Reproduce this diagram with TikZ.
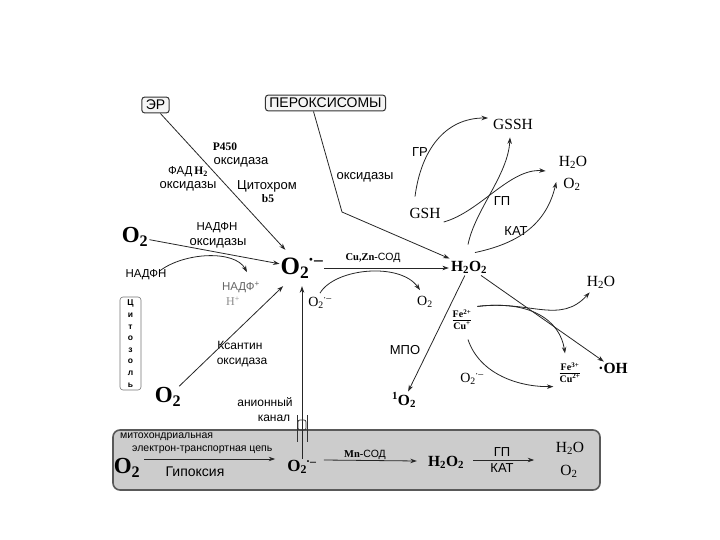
\documentclass[tikz,border=0pt]{standalone}
\usepackage{fontspec}
\setmainfont{Liberation Serif}
\newfontfamily\sansf{Liberation Sans}
\usetikzlibrary{arrows.meta,calc}
\newcommand\orad{O\textsubscript{2}\kern-0.05em\textsuperscript{·–}}
\newcommand\fefrac[2]{\begin{tabular}{@{}c@{}}#1\\[-1.5pt]\hline\rule{0pt}{9pt}#2\end{tabular}}
\begin{document}
\begin{tikzpicture}[x=1pt,y=-1pt,
  lab/.style={font=\sansf\fontsize{13}{14}\selectfont, inner sep=1pt},
  labs/.style={font=\sansf\fontsize{11.5}{12}\selectfont, inner sep=1pt},
  labm/.style={font=\sansf\fontsize{12}{13}\selectfont, inner sep=1pt},
  labt/.style={font=\sansf\fontsize{10.5}{11}\selectfont, inner sep=1pt},
  serb/.style={font=\bfseries\fontsize{11.5}{12}\selectfont, inner sep=1pt},
  bigO/.style={font=\bfseries\fontsize{23}{23}\selectfont, inner sep=1pt},
  midO/.style={font=\bfseries\fontsize{17}{17}\selectfont, inner sep=1pt},
  mid/.style={font=\bfseries\fontsize{15.5}{16}\selectfont, inner sep=2pt},
  rom/.style={font=\fontsize{15.5}{16}\selectfont, inner sep=1pt},
  roms/.style={font=\fontsize{14}{14}\selectfont, inner sep=1pt},
  frac/.style={font=\bfseries\fontsize{10}{11}\selectfont, inner sep=1pt},
  arr/.style={-{Stealth[length=6.5pt,width=4.5pt]}, line width=0.8pt, draw=black!85},
  org/.style={draw=black!80, rounded corners=3pt, line width=1pt, fill=black!4,
    font=\sansf\fontsize{14}{15}\selectfont, inner xsep=4pt, inner ysep=3pt},
  cytobox/.style={draw=black!55, rounded corners=3pt, line width=0.6pt,
    minimum width=21, minimum height=93, inner sep=0pt, align=center,
    font=\sansf\bfseries\fontsize{8.5}{11.6}\selectfont},
  mitobox/.style={draw=black!65, line width=1.6pt, fill=black!20, rounded corners=7pt,
    minimum width=487, minimum height=60, inner sep=0pt}]
\useasboundingbox (0,0) rectangle (720,540);

% bottom mitochondrial box
\node[mitobox] (mito) at (356.5,460) {};

% organelle boxes
\node[org] (er) at (155.5,105) {ЭР};
\node[org] (per) at (325.5,103) {ПЕРОКСИСОМЫ};

% ER labels
\node[serb] (p450) at (225,147) {P450};
\node[lab] (ox1) at (241,162) {оксидаза};
\node[labs] (fad) at (188,172) {ФАД\,{\rmfamily\bfseries H\textsubscript{2}}};
\node[lab] (ox2) at (188,186) {оксидазы};
\node[lab] (cytb) at (267,186) {Цитохром};
\node[serb] (b5) at (268,199) {b5};
\node[lab] (ox3) at (365,177) {оксидазы};

% top right
\node[rom] (gssh) at (513,124) {GSSH};
\node[rom] (h2oa) at (573,162) {H\textsubscript{2}O};
\node[rom] (o2a) at (572,184) {O\textsubscript{2}};
\node[rom] (gsh) at (425,213) {GSH};
\node[lab] (gr) at (420,152) {ГР};
\node[lab] (gp) at (502,201) {ГП};
\node[lab] (kat) at (516,231) {КАТ};

% left
\node[bigO] (o2l) at (135,237) {O\textsubscript{2}};
\node[labs] (nox1) at (217,228) {НАДФН};
\node[lab] (nox2) at (218,243) {оксидазы};
\node[labs] (nadph) at (146,275) {НАДФН};
\node[labs, text=black!60] (nadp) at (241,287) {НАДФ\textsuperscript{+}};
\node[roms, text=black!45, font=\fontsize{12}{12}\selectfont] (hp) at (233,301) {H\textsuperscript{+}};

% centre
\node[bigO, font=\bfseries\fontsize{25}{25}\selectfont, minimum width=42, minimum height=36] (o2m) at (302,268) {\orad};
\node[serb, font=\bfseries\fontsize{10.5}{11}\selectfont] (cuzn) at (373,258) {Cu,Zn-{\sansf\mdseries СОД}};
\node[roms] (o2s) at (320,303) {\orad};
\node[roms] (o2r) at (425,302) {O\textsubscript{2}};
\node[mid] (h2o2) at (469,267) {H\textsubscript{2}O\textsubscript{2}};
\node[rom] (h2ob) at (601,282) {H\textsubscript{2}O};
\node[frac] (fe2) at (462,321) {\fefrac{Fe\textsuperscript{2+}}{Cu\textsuperscript{+}}};
\node[frac] (fe3) at (570,374) {\fefrac{Fe\textsuperscript{3+}}{Cu\textsuperscript{2+}}};
\node[mid, inner sep=1pt] (oh) at (613,368) {·OH};
\node[roms] (o2s2) at (472,379) {\orad};
\node[lab] (mpo) at (405,350) {МПО};
\node[mid, inner sep=1pt] (sing) at (404,400) {\textsuperscript{1}O\textsubscript{2}};

% lower left
\node[cytobox] (cyt) at (130.5,343.5) {Ц\\и\\т\\о\\з\\о\\л\\ь};
\node[bigO] (o2x) at (168,397) {O\textsubscript{2}};
\node[labm] (xan1) at (240,345) {Ксантин};
\node[labm] (xan2) at (242,362) {оксидаза};
\node[labm] (an1) at (265,402) {анионный};
\node[labm] (an2) at (274,418) {канал};

% inside mitochondrial box
\node[labt, anchor=west] (mt1) at (119,437) {митохондриальная};
\node[labt, anchor=west] (mt2) at (131,450) {электрон-транспортная цепь};
\node[bigO] (o2c) at (127,468) {O\textsubscript{2}};
\node[lab, font=\sansf\fontsize{14}{15}\selectfont] (hyp) at (195,472) {Гипоксия};
\node[midO] (o2b) at (302,467) {\orad};
\node[serb, font=\bfseries\fontsize{10.5}{11}\selectfont] (mnsod) at (365,455) {Mn-{\sansf\mdseries СОД}};
\node[mid] (h2o2b) at (446,462) {H\textsubscript{2}O\textsubscript{2}};
\node[lab] (gpb) at (502,452) {ГП};
\node[lab] (katb) at (502,468) {КАТ};
\node[rom] (h2oc) at (570,448) {H\textsubscript{2}O};
\node[rom] (o2d) at (569,471) {O\textsubscript{2}};

% ER and peroxisome connectors
\draw[arr] (er.-60) -- (o2m);
\coordinate (pbend) at (342,212);
\draw[arr] ($(per.south)+(-12,0)$) -- (pbend) -- (h2o2);

% glutathione / catalase
\draw[arr] ($(gsh.north)+(-10,-10)$) .. controls (421,150) and (445,118) .. ($(gssh.west)+(-4,-6)$);
\draw[arr] ($(gsh.east)+(2,9)$) .. controls (480,212) and (510,168) .. ($(h2oa.west)+(-12,9)$);
\draw[arr] ($(h2o2.north)+(-1,-14)$) .. controls (475,210) and (508,175) .. ($(gssh.south)+(-3,7)$);
\draw[arr] ($(h2o2.north)+(6,-6)$) .. controls (510,245) and (545,230) .. ($(o2a.west)+(-6,-2)$);

% NADPH oxidase
\draw[arr] (o2l) -- (o2m);
\draw[arr] ($(nadph.north)+(14,2)$) .. controls (185,252) and (235,250) .. ($(nadp.north)+(6,-8)$);

% xanthine oxidase
\draw[arr] (o2x) -- (o2m);

% SOD
\draw[arr] (o2m.east) -- (o2m.east -| h2o2.west);
\draw[arr] ($(o2s.north)+(0,-3)$) .. controls (335,268) and (400,262) .. ($(o2r.north)+(-5,-5)$);

% H2O2 reactions
\draw[arr] (h2o2) -- (sing);
\draw[arr] (h2o2) -- (oh);
\draw[arr] ($(fe2.north east)+(5,-2)$) .. controls (530,300) and (560,325) .. ($(h2ob.south west)+(4,3)$);
\draw[arr] ($(fe2.north east)+(5,-2)$) .. controls (530,300) and (560,320) .. ($(fe3.north)+(-5,-8)$);
\draw[arr] ($(fe2.south)+(6,6)$) .. controls (480,375) and (520,387) .. ($(fe3.south west)+(-5,0)$);

% anion channel
\draw[arr] (o2b.north -| o2m.south) -- (o2m.south);
\draw[line width=0.7pt, draw=black!80] (297,415) -- (297,442) (307,415) -- (307,442);
\draw[line width=0.7pt, draw=black!80, rounded corners=2pt] (298,420) rectangle (306,430);

% mitochondrial chain
\draw[arr] ($(o2c.east)+(3,-9)$) -- ($(o2b.west)+(-11,-8)$);
\draw[arr] ($(o2b.east)+(6,-7)$) -- ($(h2o2b.west)+(-9,-1)$);
\draw[arr] ($(h2o2b.east)+(7,-2)$) -- ++(61,0);
\end{tikzpicture}
\end{document}
